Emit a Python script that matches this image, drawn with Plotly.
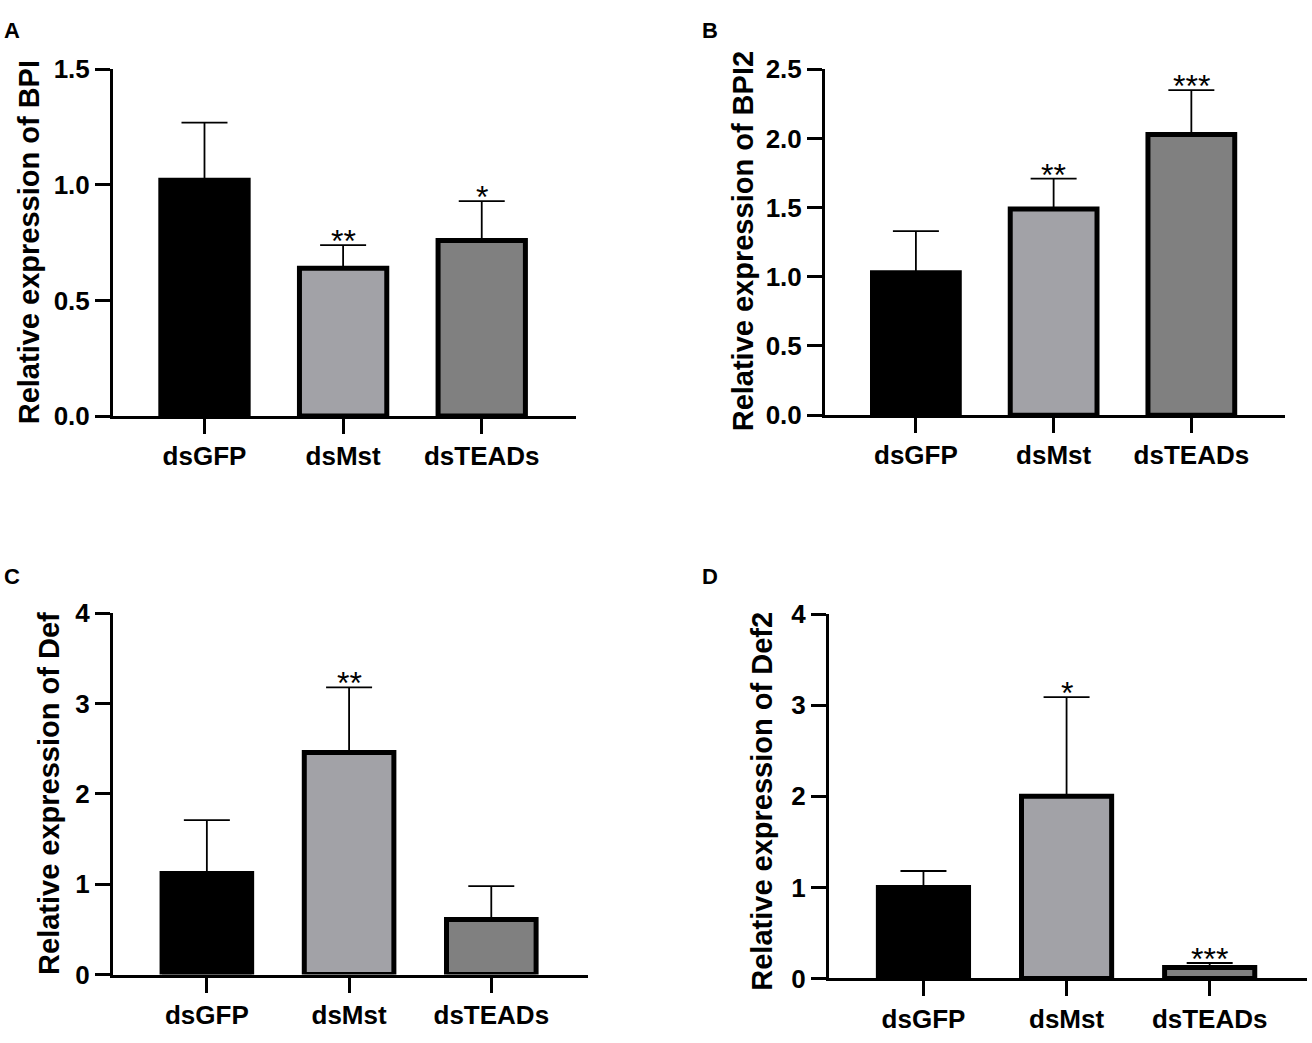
import plotly.graph_objects as go

# qPCR relative expression, mean with upper error bar
categories = ["dsGFP", "dsMst", "dsTEADs"]

bpi_mean = [1.02, 0.64, 0.76]
bpi_err = [0.25, 0.10, 0.17]
bpi_stars = ["", "**", "*"]
bpi_ticks = [0, 0.5, 1.0, 1.5]
bpi_ticklabels = ["0.0", "0.5", "1.0", "1.5"]

bpi2_mean = [1.03, 1.49, 2.03]
bpi2_err = [0.30, 0.22, 0.32]
bpi2_stars = ["", "**", "***"]
bpi2_ticks = [0, 0.5, 1.0, 1.5, 2.0, 2.5]
bpi2_ticklabels = ["0.0", "0.5", "1.0", "1.5", "2.0", "2.5"]

def_mean = [1.12, 2.46, 0.61]
def_err = [0.59, 0.72, 0.37]
def_stars = ["", "**", ""]
def_ticks = [0, 1, 2, 3, 4]
def_ticklabels = ["0", "1", "2", "3", "4"]

def2_mean = [1.00, 2.00, 0.12]
def2_err = [0.18, 1.09, 0.05]
def2_stars = ["", "*", "***"]
def2_ticks = [0, 1, 2, 3, 4]
def2_ticklabels = ["0", "1", "2", "3", "4"]

bar_colors = ["#000000", "#a2a2a7", "#808080"]
FONT = "Liberation Sans, Arial, sans-serif"
W, H = 1312, 1043

# panel: (letter, ytitle, mean, err, stars, ticks, ticklabels, x px span, y px span, title px, letter px)
panels = [
    ("A", "Relative expression of BPI", bpi_mean, bpi_err, bpi_stars, bpi_ticks, bpi_ticklabels,
     (113, 576), (413, 56), (29, 234), (2, 16)),
    ("B", "Relative expression of BPI2", bpi2_mean, bpi2_err, bpi2_stars, bpi2_ticks, bpi2_ticklabels,
     (825, 1285), (412, 56), (743, 233), (700, 16)),
    ("C", "Relative expression of Def", def_mean, def_err, def_stars, def_ticks, def_ticklabels,
     (113, 588), (988, 616), (49, 802), (2, 578)),
    ("D", "Relative expression of Def2", def2_mean, def2_err, def2_stars, def2_ticks, def2_ticklabels,
     (829, 1307), (992, 617), (762, 810), (700, 578)),
]

fig = go.Figure()
annotations = []

for i, (letter, ytitle, mean, err, stars, yt, ytl, xs, ys, tpos, lpos) in enumerate(panels):
    n = "" if i == 0 else str(i + 1)
    fig.add_trace(go.Bar(
        x=categories, y=mean,
        xaxis="x" + n, yaxis="y" + n,
        width=0.63,
        marker=dict(color=bar_colors, line=dict(color="black", width=5)),
        error_y=dict(type="data", symmetric=False, array=err, arrayminus=[0] * 3,
                     color="black", thickness=1.8, width=23),
        showlegend=False, hoverinfo="skip",
    ))
    fig.update_layout(**{
        "xaxis" + n: dict(
            domain=[xs[0] / W, xs[1] / W], anchor="y" + n,
            range=[-0.66, 2.68], showline=True, linecolor="black", linewidth=3,
            ticks="outside", ticklen=15, tickwidth=3, tickcolor="black",
            tickfont=dict(family=FONT, size=26, color="black", weight="bold"),
            showgrid=False, zeroline=False, fixedrange=True,
        ),
        "yaxis" + n: dict(
            domain=[1 - ys[0] / H, 1 - ys[1] / H], anchor="x" + n,
            range=[yt[0], yt[-1]], tickmode="array", tickvals=yt, ticktext=ytl,
            showline=True, linecolor="black",
            linewidth=3, ticks="outside", ticklen=15, tickwidth=3, tickcolor="black",
            tickfont=dict(family=FONT, size=26, color="black", weight="bold"),
            showgrid=False, zeroline=False, fixedrange=True,
        ),
    })
    for j, s in enumerate(stars):
        if s:
            annotations.append(dict(
                x=categories[j], y=mean[j] + err[j], xref="x" + n, yref="y" + n,
                text=s, showarrow=False, yanchor="bottom", yshift=-16,
                font=dict(family=FONT, size=32, color="black"),
            ))
    annotations.append(dict(
        x=tpos[0] / W, y=1 - tpos[1] / H, xref="paper", yref="paper",
        text=ytitle, textangle=-90, showarrow=False,
        xanchor="center", yanchor="middle",
        font=dict(family=FONT, size=29, color="black", weight="bold"),
    ))
    annotations.append(dict(
        x=lpos[0] / W, y=1 - lpos[1] / H, xref="paper", yref="paper",
        text=letter, showarrow=False, xanchor="left", yanchor="middle",
        font=dict(family=FONT, size=22, color="black", weight="bold"),
    ))

fig.update_layout(
    width=W, height=H,
    margin=dict(l=0, r=0, t=0, b=0),
    paper_bgcolor="white", plot_bgcolor="white",
    annotations=annotations,
)

# page body has a default 8px margin; drop it so the figure fills the window
fig.write_html("out.html", config={"displayModeBar": False},
               post_script="document.body.style.margin='0';document.body.style.overflow='hidden';")
